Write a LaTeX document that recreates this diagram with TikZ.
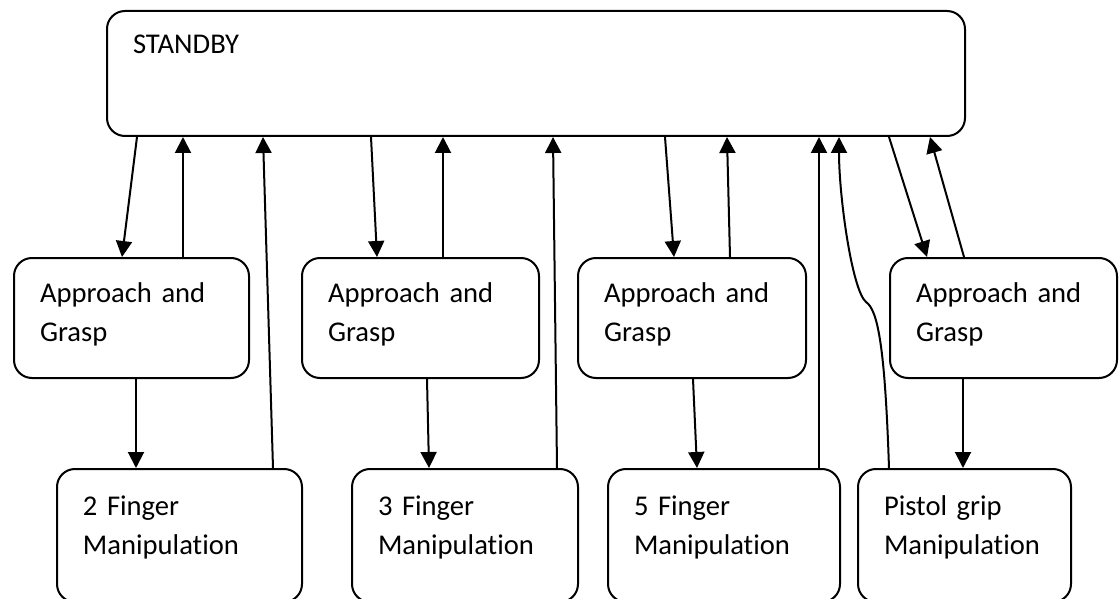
\documentclass[tikz,border=0pt]{standalone}
\usepackage{fontspec}
\setmainfont{Carlito}[Ligatures=NoCommon]
\usetikzlibrary{arrows.meta, calc}
\tikzset{
->, % every connector is directed
>={Triangle[length=8pt,width=8pt]}, % filled triangle heads
x=0.5pt, y=-0.5pt, % one unit is one pixel of the sketch, y runs down
stagebox/.style={draw, rounded corners=9pt, anchor=north west, align=left, inner xsep=13pt, inner ysep=0pt, font=\fontsize{14.3}{19.75}\selectfont}, % all boxes
topbox/.style={stagebox, text height=21.5pt, text depth=41pt}, % the standby box
graspbox/.style={stagebox, text height=22pt, text depth=38pt}, % middle row
manipbox/.style={stagebox, text height=23pt, text depth=43.5pt}, % bottom row
}
\begin{document}
\begin{tikzpicture}[line width=1pt]
\useasboundingbox (0,0) rectangle (1120,599);
\node[topbox, text width=403pt] (sb) at (106,10) {STANDBY};
\node[graspbox, text width=91.5pt] (a1) at (13,257) {Approach and\\Grasp};
\node[graspbox, text width=92.5pt] (a2) at (301,257) {Approach and\\Grasp};
\node[graspbox, text width=88pt] (a3) at (577,257) {Approach and\\Grasp};
\node[graspbox, text width=87.5pt] (a4) at (889,257) {Approach and\\Grasp};
\node[manipbox, text width=96.5pt] (m1) at (56,468) {2 Finger\\Manipulation};
\node[manipbox, text width=87pt] (m2) at (351,468) {3 Finger\\Manipulation};
\node[manipbox, text width=90pt] (m3) at (607,468) {5 Finger\\Manipulation};
\node[manipbox, text width=80.5pt] (m4) at (857,468) {Pistol grip\\Manipulation};
\coordinate (kink) at (866,302);
\draw ($(sb.south west)+(31,0)$) -- ($(a1.north west)+(109,0)$);
\draw ($(a1.north west)+(170,0)$) -- ($(sb.south west)+(77,0)$);
\draw ($(m1.north west)+(217,0)$) -- ($(sb.south west)+(157,0)$);
\draw ($(sb.south west)+(265,0)$) -- ($(a2.north west)+(76,0)$);
\draw ($(a2.north west)+(142,0)$) -- ($(sb.south west)+(337,0)$);
\draw ($(m2.north west)+(206,0)$) -- ($(sb.south west)+(447,0)$);
\draw ($(sb.south west)+(559,0)$) -- ($(a3.north west)+(97,0)$);
\draw ($(a3.north west)+(153,0)$) -- ($(sb.south west)+(621,0)$);
\draw ($(m3.north west)+(212,0)$) -- ($(sb.south west)+(713,0)$);
\draw ($(m4.north west)+(32,0)$) .. controls +(-4,-120) and +(12,8) .. (kink)
  .. controls +(-14,-12) and +(0,60) .. ($(sb.south west)+(733,0)$);
\draw ($(sb.south west)+(783,0)$) -- ($(a4.north west)+(38,0)$);
\draw ($(a4.north west)+(75,0)$) -- ($(sb.south west)+(824,0)$);
\draw ($(a1.south west)+(123,0)$) -- ($(m1.north west)+(80,0)$);
\draw ($(a2.south west)+(126,0)$) -- ($(m2.north west)+(78,0)$);
\draw ($(a3.south west)+(116,0)$) -- ($(m3.north west)+(90,0)$);
\draw ($(a4.south west)+(74,0)$) -- ($(m4.north west)+(106,0)$);
\end{tikzpicture}
\end{document}
